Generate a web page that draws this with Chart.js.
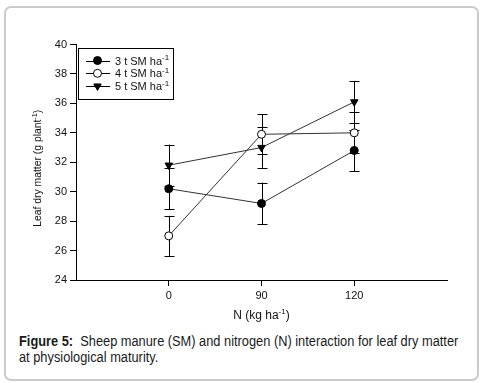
<!DOCTYPE html>
<html>
<head>
<meta charset="utf-8">
<script src="https://cdn.jsdelivr.net/npm/chart.js@4.4.1/dist/chart.umd.min.js"></script>
<style>
  html, body { margin: 0; padding: 0; background: #fff; }
  body { width: 484px; height: 383px; position: relative; overflow: hidden; font-family: "Liberation Sans", Arial, sans-serif; }
  #card { position: absolute; left: 4px; top: 6px; width: 471px; height: 371px; border: 2px solid #cbcbcb; border-radius: 7px; }
  #wrap { position: absolute; left: 0; top: 0; width: 484px; height: 330px; }
  #caption { position: absolute; left: 19px; top: 333px; width: 500px; font-size: 14px; line-height: 16px; color: #1a1a1a; transform: scaleX(0.915); transform-origin: 0 0; }
</style>
</head>
<body>
<div id="card"></div>
<div id="wrap"><canvas id="leaf"></canvas></div>
<div id="caption"><b>Figure 5:</b>&nbsp; Sheep manure (SM) and nitrogen (N) interaction for leaf dry matter<br>at physiological maturity.</div>
<script>
// N rates (kg ha-1), shown as evenly spaced categories
const nRates = ['0', '90', '120'];
const yTicks = [24, 26, 28, 30, 32, 34, 36, 38, 40];

// leaf dry matter (g plant-1) and error bars
const sm3 = [30.2, 29.2, 32.8];
const sm3Err = [1.4, 1.42, 1.42];
const sm4 = [27.0, 33.9, 34.0];
const sm4Err = [1.36, 1.36, 1.4];
const sm5 = [31.8, 33.0, 36.1];
const sm5Err = [1.4, 1.38, 1.43];

const pts = (vals) => vals.map((v, i) => ({x: i + 1, y: v}));
const FONT = '"Liberation Sans", Arial, sans-serif';

// text with a small raised "-1"
function supText(ctx, x, y, base, sup, tail, size) {
  ctx.font = size + 'px ' + FONT;
  ctx.fillText(base, x, y);
  let w = ctx.measureText(base).width;
  ctx.font = Math.round(size * 0.7) + 'px ' + FONT;
  ctx.fillText(sup, x + w, y - size * 0.38);
  w += ctx.measureText(sup).width;
  if (tail) {
    ctx.font = size + 'px ' + FONT;
    ctx.fillText(tail, x + w, y);
    w += ctx.measureText(tail).width;
  }
  return w;
}
function supWidth(ctx, base, sup, tail, size) {
  ctx.font = size + 'px ' + FONT;
  let w = ctx.measureText(base).width + (tail ? ctx.measureText(tail).width : 0);
  ctx.font = Math.round(size * 0.7) + 'px ' + FONT;
  return w + ctx.measureText(sup).width;
}

const errPlugin = {
  id: 'errbars',
  beforeDatasetsDraw(chart) {
    const ctx = chart.ctx, xs = chart.scales.x, ys = chart.scales.y;
    ctx.save();
    ctx.strokeStyle = '#000';
    ctx.lineWidth = 1;
    chart.data.datasets.forEach(ds => {
      ds.data.forEach((p, i) => {
        const e = ds.err[i];
        const px = Math.round(xs.getPixelForValue(p.x)) + 0.5;
        const top = ys.getPixelForValue(p.y + e), bot = ys.getPixelForValue(p.y - e);
        ctx.beginPath();
        ctx.moveTo(px, top); ctx.lineTo(px, bot);
        ctx.moveTo(px - 5, Math.round(top) + 0.5); ctx.lineTo(px + 5, Math.round(top) + 0.5);
        ctx.moveTo(px - 5, Math.round(bot) + 0.5); ctx.lineTo(px + 5, Math.round(bot) + 0.5);
        ctx.stroke();
      });
    });
    ctx.restore();
  }
};

const decorPlugin = {
  id: 'decor',
  afterDraw(chart) {
    const ctx = chart.ctx, a = chart.chartArea;
    ctx.save();
    ctx.fillStyle = '#111';
    ctx.textBaseline = 'alphabetic';
    // x title
    const xw = supWidth(ctx, 'N (kg ha', '-1', ')', 12);
    supText(ctx, (a.left + a.right) / 2 - xw / 2, 319, 'N (kg ha', '-1', ')', 12);
    // y title (slightly condensed like the original)
    ctx.save();
    ctx.translate(41, (a.top + a.bottom) / 2 + 6);
    ctx.rotate(-Math.PI / 2);
    ctx.scale(0.9, 1);
    const yw = supWidth(ctx, 'Leaf dry matter (g plant', '-1', ')', 11.5);
    supText(ctx, -yw / 2, 0, 'Leaf dry matter (g plant', '-1', ')', 11.5);
    ctx.restore();
    // legend box
    const lx = a.left + 2, ly = a.top + 3.5, lw = 95, lh = 51;
    ctx.strokeStyle = '#000';
    ctx.lineWidth = 1;
    ctx.strokeRect(Math.round(lx) + 0.5, Math.round(ly) + 0.5, lw, lh);
    chart.data.datasets.forEach((ds, i) => {
      const cy = ly + 12.5 + i * 12.8;
      ctx.beginPath();
      ctx.moveTo(lx + 8, Math.round(cy) + 0.5);
      ctx.lineTo(lx + 32, Math.round(cy) + 0.5);
      ctx.strokeStyle = '#000';
      ctx.stroke();
      ctx.fillStyle = ds.pointBackgroundColor;
      Chart.helpers.drawPoint(ctx, {
        pointStyle: ds.pointStyle, radius: ds.pointRadius, rotation: ds.pointRotation || 0, borderWidth: 1
      }, lx + 19.5, cy);
      ctx.fillStyle = '#111';
      supText(ctx, lx + 37, cy + 4, ds.label, '-1', '', 11);
    });
    ctx.restore();
  }
};

function series(label, vals, errs, style, fill, radius, rot) {
  return {
    label: label,
    data: pts(vals),
    err: errs,
    borderColor: '#333',
    borderWidth: 1,
    pointStyle: style,
    pointRadius: radius,
    pointHoverRadius: radius,
    pointRotation: rot,
    pointBackgroundColor: fill,
    pointBorderColor: '#000',
    pointBorderWidth: 1,
    fill: false,
    tension: 0
  };
}

new Chart(document.getElementById('leaf'), {
  type: 'line',
  data: {
    datasets: [
      series('3 t SM ha', sm3, sm3Err, 'circle', '#000', 4, 0),
      series('4 t SM ha', sm4, sm4Err, 'circle', '#fff', 4, 0),
      series('5 t SM ha', sm5, sm5Err, 'triangle', '#000', 4.3, 180)
    ]
  },
  options: {
    responsive: true,
    maintainAspectRatio: false,
    animation: false,
    events: [],
    layout: { padding: { left: 0, right: 37, top: 44.5, bottom: 0 } },
    plugins: { legend: { display: false }, tooltip: { enabled: false } },
    scales: {
      x: {
        type: 'linear',
        min: 0,
        max: nRates.length + 1,
        afterBuildTicks: s => { s.ticks = nRates.map((c, i) => ({value: i + 1})); },
        afterFit: s => { s.height = 50; },
        grid: { drawOnChartArea: false, drawTicks: true, tickLength: 6, tickColor: '#000' },
        border: { color: '#000', width: 1 },
        ticks: { callback: v => nRates[v - 1], color: '#111', font: { family: FONT, size: 11 }, padding: 3, maxRotation: 0 }
      },
      y: {
        min: 24,
        max: 40,
        afterBuildTicks: s => { s.ticks = yTicks.map(v => ({value: v})); },
        afterFit: s => { s.width = 76; },
        grid: { drawOnChartArea: false, drawTicks: true, tickLength: 6, tickColor: '#000' },
        border: { color: '#000', width: 1 },
        ticks: { color: '#111', font: { family: FONT, size: 11 }, padding: 3 }
      }
    }
  },
  plugins: [errPlugin, decorPlugin]
});
</script>
</body>
</html>
